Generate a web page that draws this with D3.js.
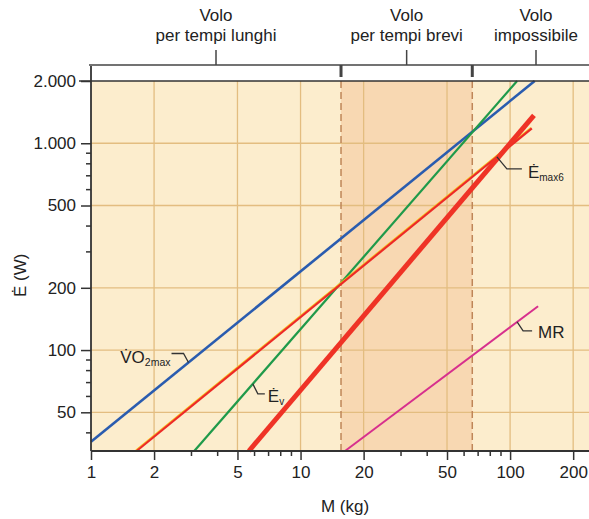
<!DOCTYPE html>
<html>
<head>
<meta charset="utf-8">
<script src="https://cdn.jsdelivr.net/npm/d3@7"></script>
<style>
  body { margin: 0; background: #fff; }
  svg text { font-family: "Liberation Sans", Arial, sans-serif; fill: #222; }
</style>
</head>
<body>
<svg id="chart"></svg>
<script>
// Data (mass in kg, power in W)
const massTicks = [1, 2, 5, 10, 20, 50, 100, 200];
const massMinor = [3, 4, 6, 7, 8, 9, 30, 40, 60, 70, 80, 90];
const powerTicks = [50, 100, 200, 500, 1000, 2000];
const powerMinor = [40, 60, 70, 80, 90, 300, 400, 600, 700, 800, 900];

// each line is straight on log-log axes: start and end points
const vo2max = [[1, 36], [131, 2000]];
const eV = [[3.11, 32.5], [108, 2000]];
const eMax6 = [[1.65, 32.5], [127, 1181]];
const eFlight = [[5.67, 32.5], [130, 1365]];
const mr = [[16.3, 32.5], [136, 163]];

// flight zones (kg)
const zoneBounds = [1, 15.6, 66, 300];
const zoneNames = [["Volo", "per tempi lunghi"], ["Volo", "per tempi brevi"], ["Volo", "impossibile"]];

const width = 589, height = 519;

const svg = d3.select("#chart")
    .attr("width", width)
    .attr("height", height);

const x = d3.scaleLog().domain([1, 238]).range([91, 589]);
const y = d3.scaleLog().domain([32.5, 2000]).range([451, 81]);

const it = d3.formatLocale({ decimal: ",", thousands: ".", grouping: [3], currency: ["", "€"] });
const fmt = it.format(",");

// plot background
svg.append("rect")
    .attr("x", x(1)).attr("y", y(2000))
    .attr("width", x(238) - x(1)).attr("height", y(32.5) - y(2000))
    .attr("fill", "#fcedcd");

// short-flight zone
svg.append("rect")
    .attr("x", x(zoneBounds[1])).attr("y", y(2000))
    .attr("width", x(zoneBounds[2]) - x(zoneBounds[1]))
    .attr("height", y(32.5) - y(2000))
    .attr("fill", "#f8d8b2");

// grid
svg.append("g")
    .selectAll("line")
    .data(massTicks.slice(1))
    .join("line")
    .attr("x1", d => x(d)).attr("x2", d => x(d))
    .attr("y1", y(2000)).attr("y2", y(32.5))
    .attr("stroke", "#e3bd80").attr("stroke-width", 1.3);

svg.append("g")
    .selectAll("line")
    .data(powerTicks.slice(0, -1))
    .join("line")
    .attr("x1", x(1)).attr("x2", x(238))
    .attr("y1", d => y(d)).attr("y2", d => y(d))
    .attr("stroke", "#e3bd80").attr("stroke-width", 1.3);

// dashed zone limits
svg.append("g")
    .selectAll("line")
    .data(zoneBounds.slice(1, 3))
    .join("line")
    .attr("x1", d => x(d)).attr("x2", d => x(d))
    .attr("y1", y(2000)).attr("y2", y(32.5))
    .attr("stroke", "#bf8658").attr("stroke-width", 1.5)
    .attr("stroke-dasharray", "7,4");

// lines
const line = d3.line().x(d => x(d[0])).y(d => y(d[1]));

svg.append("path").datum(vo2max).attr("d", line)
    .attr("fill", "none").attr("stroke", "#2a5caf").attr("stroke-width", 2.6);

svg.append("path").datum(eV).attr("d", line)
    .attr("fill", "none").attr("stroke", "#1f9a4a").attr("stroke-width", 2.2);

// thin red with yellow edge
svg.append("path").datum(eMax6).attr("d", line)
    .attr("transform", "translate(-0.9,-0.9)")
    .attr("fill", "none").attr("stroke", "#f6c21a").attr("stroke-width", 1.2);
svg.append("path").datum(eMax6).attr("d", line)
    .attr("fill", "none").attr("stroke", "#ed2a26").attr("stroke-width", 2.2);

svg.append("path").datum(eFlight).attr("d", line)
    .attr("fill", "none").attr("stroke", "#ef3326").attr("stroke-width", 5);

svg.append("path").datum(mr).attr("d", line)
    .attr("fill", "none").attr("stroke", "#d7308d").attr("stroke-width", 2);

// top border of the plot
svg.append("line")
    .attr("x1", x(1) - 12).attr("x2", width)
    .attr("y1", y(2000)).attr("y2", y(2000))
    .attr("stroke", "#333").attr("stroke-width", 1.6);

// axes
const xAxis = svg.append("g")
    .attr("transform", `translate(0,${y(32.5)})`)
    .call(d3.axisBottom(x).tickValues(massTicks).tickFormat(d3.format("d")).tickSize(9).tickPadding(6));
svg.append("g")
    .attr("transform", `translate(0,${y(32.5)})`)
    .call(d3.axisBottom(x).tickValues(massMinor).tickFormat("").tickSize(5))
    .select(".domain").remove();

const yAxis = svg.append("g")
    .attr("transform", `translate(${x(1)},0)`)
    .call(d3.axisLeft(y).tickValues(powerTicks).tickFormat(fmt).tickSize(10).tickPadding(5));
svg.append("g")
    .attr("transform", `translate(${x(1)},0)`)
    .call(d3.axisLeft(y).tickValues(powerMinor).tickFormat("").tickSize(5))
    .select(".domain").remove();

svg.selectAll(".domain").attr("stroke", "#333").attr("stroke-width", 1.8);
svg.selectAll(".tick line").attr("stroke", "#333").attr("stroke-width", 1.5);
svg.selectAll(".tick text").attr("font-size", 17).attr("fill", "#222")
    .attr("font-family", "Liberation Sans, Arial, sans-serif");
xAxis.selectAll(".domain").attr("d", `M${x(1)},0H${width}`);
yAxis.selectAll(".domain").attr("d", `M0,${y(32.5)}V${y(2000) - 15}`);

// axis titles
svg.append("text")
    .attr("x", 345).attr("y", 512)
    .attr("text-anchor", "middle").attr("font-size", 17)
    .text("M (kg)");

svg.append("text")
    .attr("transform", `translate(26,${y(230)}) rotate(-90)`)
    .attr("text-anchor", "middle").attr("font-size", 17)
    .text("Ė (W)");

// zone bracket on top
const by = 65;
svg.append("line")
    .attr("x1", x(1) - 2).attr("x2", width)
    .attr("y1", by).attr("y2", by)
    .attr("stroke", "#444").attr("stroke-width", 1.6);

svg.append("g")
    .selectAll("rect")
    .data(zoneBounds.slice(1, 3))
    .join("rect")
    .attr("x", d => x(d) - 1.5).attr("y", by)
    .attr("width", 3).attr("height", 12)
    .attr("fill", "#444");

const zones = svg.append("g")
    .selectAll("g")
    .data(zoneNames)
    .join("g")
    .attr("transform", (d, i) => {
        const cx = i < 2 ? (x(zoneBounds[i]) + x(zoneBounds[i + 1])) / 2 : 536;
        return `translate(${cx},0)`;
    });

zones.append("line")
    .attr("y1", by).attr("y2", by - 15)
    .attr("stroke", "#444").attr("stroke-width", 1.5);

zones.append("text")
    .attr("y", 21).attr("text-anchor", "middle").attr("font-size", 17)
    .text(d => d[0]);
zones.append("text")
    .attr("y", 41).attr("text-anchor", "middle").attr("font-size", 17)
    .text(d => d[1]);

// curve labels with leader lines
function leader(px, py, pts) {
    svg.append("path")
        .attr("d", d3.line()([[px, py], ...pts]))
        .attr("fill", "none").attr("stroke", "#333").attr("stroke-width", 1.3);
}

function powerAt(seg, m) {
    const [[m0, p0], [m1, p1]] = seg;
    const k = Math.log(p1 / p0) / Math.log(m1 / m0);
    return p0 * Math.pow(m / m0, k);
}

// VO2max
{
    const m = 2.92, px = x(m), py = y(powerAt(vo2max, m));
    leader(px, py, [[px - 5, py - 9], [px - 17, py - 9]]);
    const t = svg.append("text").attr("x", px - 18).attr("y", py).attr("text-anchor", "end").attr("font-size", 17);
    t.append("tspan").text("V̇O");
    t.append("tspan").attr("font-size", 10.5).attr("dy", 3).text("2max");
}

// Ev
{
    const m = 5.92, px = x(m), py = y(powerAt(eV, m));
    leader(px, py, [[px + 5, py + 10], [px + 12, py + 10]]);
    const t = svg.append("text").attr("x", px + 15).attr("y", py + 18).attr("font-size", 17);
    t.append("tspan").text("Ė");
    t.append("tspan").attr("font-size", 10).attr("dy", 3).text("v");
}

// Emax6
{
    const m = 86.5, px = x(m), py = y(powerAt(eMax6, m));
    leader(px, py, [[px + 10, py + 12], [px + 25, py + 12]]);
    const t = svg.append("text").attr("x", px + 31).attr("y", py + 21).attr("font-size", 17);
    t.append("tspan").text("Ė");
    t.append("tspan").attr("font-size", 10).attr("dy", 3).text("max6");
}

// MR
{
    const m = 108, px = x(m), py = y(powerAt(mr, m));
    leader(px, py, [[px + 6, py + 9], [px + 15, py + 9]]);
    svg.append("text").attr("x", px + 21).attr("y", py + 16).attr("font-size", 17)
        .text("MR");
}
</script>
</body>
</html>
